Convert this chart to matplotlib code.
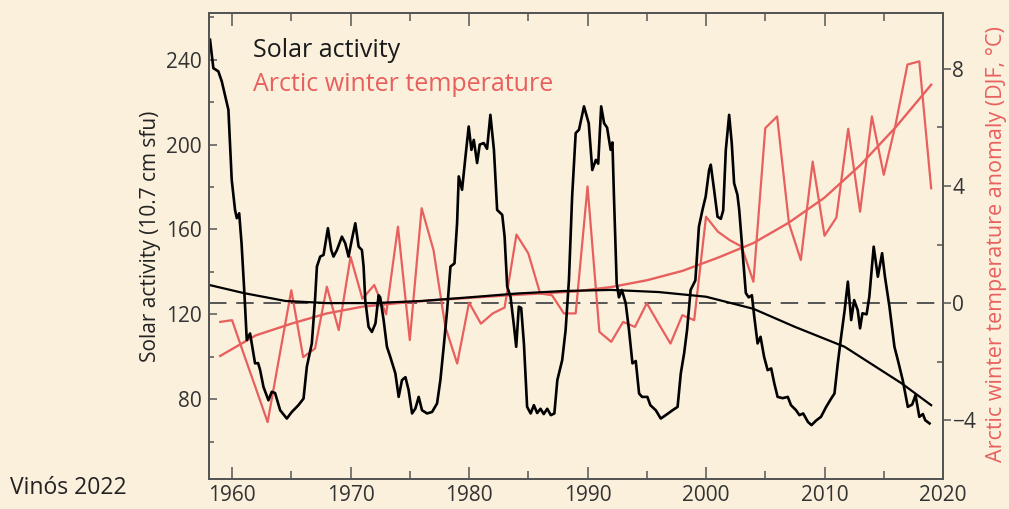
import numpy as np
import matplotlib.pyplot as plt
from matplotlib.ticker import MultipleLocator

plt.rcParams['font.family'] = ['Open Sans', 'DejaVu Sans']

# Actividad solar (flujo 10.7 cm, suavizado)
solar_year = [1958.14, 1958.42, 1958.84, 1959.13, 1959.55, 1959.69, 1959.97, 1960.25, 1960.4, 1960.6,
              1960.8, 1961.04, 1961.24, 1961.52, 1961.66, 1961.94, 1962.2, 1962.37, 1962.65, 1963.07,
              1963.35, 1963.63, 1964.06, 1964.62, 1965.04, 1965.6, 1966.03, 1966.31, 1966.73, 1967.0,
              1967.16, 1967.44, 1967.72, 1968.09, 1968.37, 1968.56, 1968.85, 1969.27, 1969.55, 1969.83,
              1970.1, 1970.4, 1970.68, 1970.96, 1971.1, 1971.24, 1971.52, 1971.8, 1972.1, 1972.37,
              1972.5, 1972.79, 1973.07, 1973.35, 1973.78, 1974.06, 1974.34, 1974.63, 1974.9, 1975.19,
              1975.47, 1975.75, 1976.03, 1976.46, 1976.88, 1977.3, 1977.58, 1977.86, 1978.15, 1978.43,
              1978.77, 1978.99, 1979.13, 1979.41, 1979.7, 1979.97, 1980.2, 1980.4, 1980.68, 1980.9,
              1981.24, 1981.52, 1981.8, 1982.1, 1982.37, 1982.8, 1983.0, 1983.22, 1983.5, 1983.8,
              1983.98, 1984.2, 1984.4, 1984.63, 1984.9, 1985.2, 1985.47, 1985.75, 1986.03, 1986.3,
              1986.6, 1986.9, 1987.2, 1987.45, 1987.86, 1988.15, 1988.43, 1988.7, 1989.0, 1989.28,
              1989.7, 1990.1, 1990.4, 1990.7, 1990.9, 1991.15, 1991.4, 1991.65, 1991.95, 1992.1,
              1992.23, 1992.46, 1992.65, 1992.9, 1993.22, 1993.5, 1993.79, 1994.07, 1994.35, 1994.6,
              1995.05, 1995.3, 1995.76, 1996.18, 1996.6, 1997.17, 1997.6, 1997.87, 1998.15, 1998.4,
              1998.7, 1999.1, 1999.4, 1999.7, 1999.97, 2000.26, 2000.4, 2000.68, 2000.97, 2001.25,
              2001.45, 2001.67, 2001.95, 2002.17, 2002.37, 2002.65, 2002.8, 2003.07, 2003.36, 2003.6,
              2003.87, 2004.07, 2004.35, 2004.6, 2004.9, 2005.2, 2005.5, 2005.76, 2006.04, 2006.47,
              2006.9, 2007.17, 2007.6, 2007.88, 2008.2, 2008.6, 2008.9, 2009.3, 2009.7, 2010.14,
              2010.56, 2010.84, 2011.12, 2011.4, 2011.7, 2011.97, 2012.25, 2012.5, 2012.8, 2013.0,
              2013.2, 2013.55, 2013.78, 2014.15, 2014.5, 2014.86, 2015.1, 2015.48, 2015.9, 2016.19,
              2016.6, 2017.03, 2017.4, 2017.68, 2018.0, 2018.3, 2018.5, 2018.86]
solar_val = [249.4, 236, 234.5, 229.8, 219.6, 216.4, 183.4, 169.2, 165.3, 167.6,
             153.5, 130, 107.9, 111, 106.3, 96.9, 97, 93.7, 85.8, 79.5,
             83.5, 82.9, 74.8, 70.9, 74.0, 77.2, 80.3, 95.3, 106.3, 126.7,
             142.5, 147.2, 148, 160.6, 150.3, 147.2, 150.3, 156.6, 153.5, 147.2,
             155, 162.9, 151.9, 150.3, 142.5, 126.7, 114.1, 111.7, 115.7, 129,
             128, 117.3, 104.7, 100, 92.2, 81.1, 89, 90.4, 84.3, 73.3,
             75.6, 81.1, 74.8, 73.3, 74, 78, 89, 104.7, 122, 142.5,
             144, 162.9, 185, 178.7, 194.4, 208.5, 197.5, 202.2, 191.3, 200,
             200.7, 198, 214, 197.5, 169.2, 166.9, 156.6, 133, 128.3, 114,
             104.7, 123.6, 123, 106.3, 76.4, 73.3, 77.2, 73.5, 75.5, 73,
             75.5, 72.5, 73.3, 89, 98.4, 112.6, 136.2, 175.5, 205.4, 207,
             218, 210, 188, 192.8, 191, 218, 210, 208, 197.5, 201,
             175.5, 134.6, 128, 131.5, 125.2, 112.6, 96.9, 98, 82.7, 81.1,
             81.1, 77.2, 74.8, 70.9, 72.5, 74.8, 76.4, 92.2, 101.6, 112.6,
             131.5, 136, 161.3, 169.2, 175.5, 188, 190.5, 178.7, 166, 165,
             169, 197.5, 214, 200.7, 181.8, 176.3, 169.2, 150.3, 130, 128,
             129, 118.9, 106.3, 109.4, 100, 93.7, 94.5, 87.5, 81.1, 80.5,
             81.1, 77.2, 74.8, 72.5, 73.3, 69.3, 67.8, 70, 71.7, 76.4,
             80.3, 82.7, 96.9, 109.4, 122, 135.4, 117.3, 126.7, 122, 113.4,
             120.5, 120, 128.3, 151.9, 137.7, 148.8, 137.7, 123.6, 104.7, 98.4,
             89, 76.4, 77.5, 82, 71.7, 73, 70.1, 68.6]

# Tendencia de la actividad solar
solar_trend_year = [1958.1, 1961, 1964.5, 1968, 1972, 1976, 1980, 1984, 1988, 1992,
                    1996, 2000, 2004, 2007.5, 2011.7, 2016.5, 2019]
solar_trend_val = [133.8, 130, 126.3, 125.3, 125.3, 126.3, 128, 129.8, 131, 131.5,
                   130.5, 128.3, 122.6, 114.1, 104.7, 87.5, 77.2]

# Anomalía de temperatura invernal ártica (DJF)
temp_year = list(range(1959, 2020))
temp_val = [-0.64, -0.58, -1.75, -2.9, -4.06, -1.8, 0.44, -1.84, -1.55, 0.56,
            -0.92, 1.58, 0.15, 0.62, -0.38, 2.61, -1.26, 3.24, 1.81, -0.81,
            -2.06, 0.02, -0.7, -0.35, -0.15, 2.34, 1.7, 0.33, 0.27, -0.35,
            -0.35, 3.98, -0.98, -1.32, -0.64, -0.81, 0.0, -0.7, -1.38, -0.41,
            -0.58, 2.95, 2.44, 2.15, 1.93, 0.73, 5.97, 6.37, 2.72, 1.47,
            4.83, 2.3, 2.92, 5.95, 3.12, 6.37, 4.38, 6.1, 8.14, 8.25,
            3.92]

# Tendencia de la temperatura
temp_trend_year = [1959, 1962, 1965, 1968, 1971, 1974, 1977, 1980, 1983, 1986, 1989,
                   1992, 1995, 1998, 2001, 2004, 2007, 2010, 2013, 2016, 2019]
temp_trend_val = [-1.8, -1.1, -0.7, -0.35, -0.12, 0.0, 0.1, 0.18, 0.26, 0.33, 0.4,
                  0.55, 0.78, 1.1, 1.55, 2.05, 2.75, 3.6, 4.7, 6.0, 7.45]

bg = '#faf0dc'
red = '#e8605e'
frame = '#555555'

fig = plt.figure(figsize=(10.09, 5.09), dpi=100, facecolor=bg)
ax = fig.add_axes([0.2071, 0.0589, 0.7275, 0.9156])
ax2 = ax.twinx()

# Temperatura (eje derecho)
ax2.axhline(0, color='#555555', linewidth=1.4, linestyle=(0, (9, 5)))
ax2.plot(temp_year, temp_val, color=red, linewidth=1.6)
ax2.plot(temp_trend_year, temp_trend_val, color=red, linewidth=1.7)
ax2.set_ylim(-6.0, 9.9)
ax2.yaxis.set_major_locator(MultipleLocator(4))
ax2.yaxis.set_minor_locator(MultipleLocator(2))
ax2.tick_params(axis='y', which='major', direction='out', length=5.8, width=1.1,
                color=frame, labelsize=15, labelcolor='#333333', pad=1)
ax2.tick_params(axis='y', which='minor', direction='in', length=4.3, width=1.1, color=frame)
ax2.set_ylabel('Arctic winter temperature anomaly (DJF, °C)', color=red, fontsize=15.5)
ax2.yaxis.set_label_coords(1.058, 0.505)

# Actividad solar (eje izquierdo, encima)
ax.set_zorder(ax2.get_zorder() + 1)
ax.patch.set_visible(False)
ax2.patch.set_facecolor(bg)
ax.plot(solar_year, solar_val, color='black', linewidth=1.9)
ax.plot(solar_trend_year, solar_trend_val, color='black', linewidth=1.6)
ax.set_xlim(1958.05, 2020)
ax.set_ylim(42.4, 262)
ax.xaxis.set_major_locator(MultipleLocator(10))
ax.xaxis.set_minor_locator(MultipleLocator(5))
ax.yaxis.set_major_locator(MultipleLocator(40))
ax.yaxis.set_minor_locator(MultipleLocator(20))
ax.tick_params(axis='x', which='major', direction='in', length=9, width=1.1, top=True,
               color=frame, labelsize=15, labelcolor='#333333', pad=4)
ax.tick_params(axis='x', which='minor', direction='in', length=5.5, width=1.1, top=True, color=frame)
ax.tick_params(axis='y', which='major', direction='in', length=5.8, width=1.1,
               color=frame, labelsize=15, labelcolor='#333333', pad=5)
ax.tick_params(axis='y', which='minor', direction='in', length=3.6, width=1.1, color=frame)
ax.set_ylabel('Solar activity (10.7 cm sfu)', color='#222222', fontsize=15)
ax.yaxis.set_label_coords(-0.066, 0.52)

for a in (ax, ax2):
    for s in a.spines.values():
        s.set_color(frame)
        s.set_linewidth(1.4)

ax.text(0.06, 0.92, 'Solar activity', transform=ax.transAxes, fontsize=18,
        color='#1a1a1a', va='center', ha='left')
ax.text(0.06, 0.847, 'Arctic winter temperature', transform=ax.transAxes, fontsize=18,
        color=red, va='center', ha='left')
fig.text(0.01, 0.042, 'Vinós 2022', fontsize=16.5, color='#222222', va='center', ha='left')

fig.savefig('out.png', dpi=100, facecolor=bg)
